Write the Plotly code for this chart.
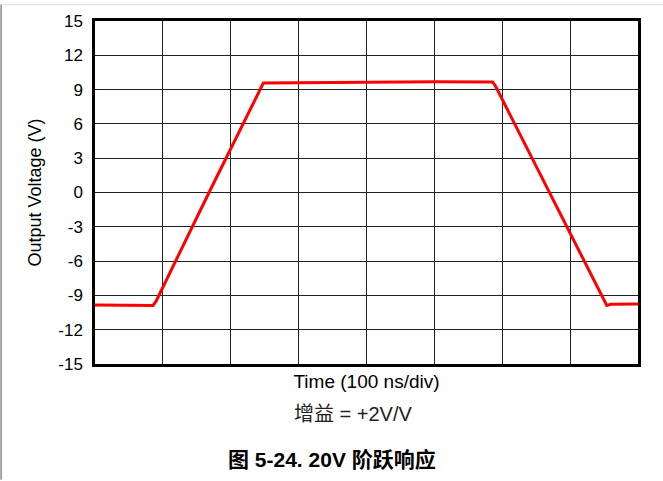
import plotly.graph_objects as go

# Time in ns (100 ns/div, 8 divisions), voltage in V
time_ns = [0, 40, 85.5, 90, 168, 248, 260, 400, 500, 580, 586, 591, 670, 754, 760, 775, 800]
voltage = [-9.85, -9.86, -9.88, -9.5, 0.0, 9.57, 9.58, 9.65, 9.68, 9.70, 9.66, 9.2, 0.0, -9.88, -9.78, -9.75, -9.75]

y_ticks = [15, 12, 9, 6, 3, 0, -3, -6, -9, -12, -15]
y_tick_text = ["15", "12", "9", "6", "3", "0", "-3", "-6", "-9", "-12", "-15"]
x_ticks = [0, 100, 200, 300, 400, 500, 600, 700, 800]

FONT = "Liberation Sans, Arial, Noto Sans CJK SC, sans-serif"

fig = go.Figure()
fig.add_trace(go.Scatter(x=time_ns, y=voltage, mode="lines",
                         line=dict(color="#ff0000", width=3),
                         showlegend=False, hoverinfo="skip"))

PL, PW, PB, PH = 95.3, 542.4, 364, 347

fig.update_layout(
    width=663, height=481,
    margin=dict(l=95, r=25, t=17, b=117),
    paper_bgcolor="white", plot_bgcolor="white",
    font=dict(family=FONT, size=17, color="black"),
    xaxis=dict(range=[0, 800], tickvals=x_ticks, showticklabels=False,
               showgrid=True, gridcolor="#222", gridwidth=1,
               showline=True, linecolor="black", linewidth=2.5, mirror=True,
               zeroline=False, ticks="",
               title=dict(text="Time (100 ns/div)", font=dict(size=19), standoff=9)),
    yaxis=dict(range=[-15, 15], tickvals=y_ticks, ticktext=y_tick_text,
               showgrid=True, gridcolor="#222", gridwidth=1,
               showline=True, linecolor="black", linewidth=2.5, mirror=True,
               zeroline=False, ticks="outside", ticklen=6, tickcolor="white",
               tickfont=dict(size=17),
               title=dict(text="Output Voltage (V)", font=dict(size=18), standoff=12)),
    annotations=[
        dict(text="增益 = +2V/V", xref="paper", yref="paper",
             x=(353 - PL) / PW, y=-(415 - PB) / PH, xanchor="center", yanchor="middle",
             showarrow=False, font=dict(size=20, color="#222")),
        dict(text="<b>图 5-24. 20V 阶跃响应</b>", xref="paper", yref="paper",
             x=(332 - PL) / PW, y=-(461 - PB) / PH, xanchor="center", yanchor="middle",
             showarrow=False, font=dict(size=21, color="black")),
    ],
    shapes=[
        dict(type="line", xref="paper", yref="paper",
             x0=(1.5 - PL) / PW, x1=(1.5 - PL) / PW,
             y0=(PB - 0) / PH, y1=(PB - 481) / PH,
             line=dict(color="#888", width=1.5)),
        dict(type="line", xref="paper", yref="paper",
             x0=(0 - PL) / PW, x1=(663 - PL) / PW,
             y0=(PB - 0.5) / PH, y1=(PB - 0.5) / PH,
             line=dict(color="#ddd", width=1)),
    ],
)

fig.write_html("out.html", config={"displayModeBar": False},
               post_script="document.body.style.margin='0';")
